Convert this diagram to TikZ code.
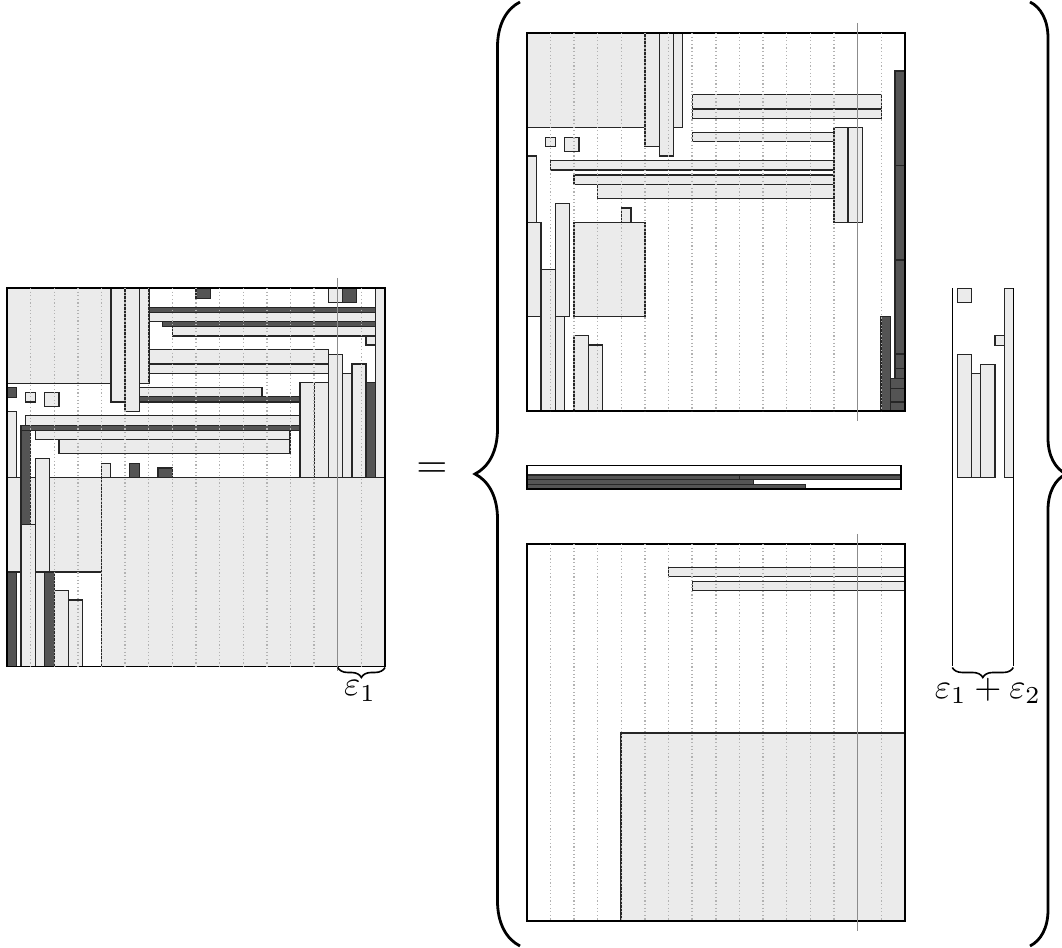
\documentclass[tikz,border=0pt]{standalone}
\usetikzlibrary{decorations.pathreplacing}
\tikzset{
  lt/.style={fill=black!8, draw=black!85, line width=0.35pt},
  dk/.style={fill=black!67, draw=black!85, line width=0.35pt},
  frm/.style={draw=black, line width=0.4pt},
  gridl/.style={draw=black!30, line width=0.35pt, dash pattern=on 0.3pt off 0.6pt},
  cutl/.style={draw=black!45, line width=0.35pt},
  bigbrace/.style={draw=black, line width=0.7pt, decorate, decoration={brace, amplitude=#1}},
  smallbrace/.style={draw=black, line width=0.4pt, decorate, decoration={brace, amplitude=2.5pt}},
  lbl/.style={inner sep=0pt, scale=0.87}
}
\begin{document}
\begin{tikzpicture}[x=0.25pt, y=-0.25pt]
\useasboundingbox (0,0) rectangle (1062,948);

% ================= LEFT MATRIX =================
\draw[lt] (7,288) rectangle (111,383.3);
\draw[lt] (111,288) rectangle (125,402);
\draw[lt] (125,288) rectangle (139.3,411.3);
\draw[lt] (139.3,288) rectangle (149,383.3);
\draw[dk] (149,307.3) rectangle (375.3,312.3);
\draw[lt] (149,312.3) rectangle (375.3,321.7);
\draw[dk] (162.7,321.7) rectangle (375.3,326.7);
\draw[lt] (172.3,326.7) rectangle (375.3,336);
\draw[lt] (149,349.7) rectangle (328.3,364);
\draw[lt] (149,364) rectangle (328.3,373.3);
\draw[lt] (139.3,387.3) rectangle (262,396.7);
\draw[dk] (139.3,396.7) rectangle (300,402);
\draw[lt] (25.7,415.7) rectangle (300,425.7);
\draw[dk] (21,425.7) rectangle (300,430.3);
\draw[lt] (35.3,430.3) rectangle (290,439.7);
\draw[lt] (59,439.7) rectangle (290,453.7);
\draw[dk] (7,387.3) rectangle (16.3,397.3);
\draw[lt] (25.7,392.3) rectangle (35.3,402);
\draw[lt] (44.7,392.3) rectangle (59,406.7);
\draw[lt] (7,411.3) rectangle (16.3,477.3);
\draw[lt] (7,477.3) rectangle (101.7,572);
\draw[lt] (101.7,477.3) rectangle (385,666.5);
\draw[dk] (21,430.3) rectangle (30.7,524.3);
\draw[lt] (35.3,458.3) rectangle (49.3,571.7);
\draw[dk] (196,288) rectangle (210.3,298.3);
\draw[lt] (328.3,288) rectangle (342.7,302.3);
\draw[dk] (342.7,288) rectangle (356.7,302.3);
\draw[lt] (375.3,288) rectangle (385,477.3);
\draw[lt] (366,336) rectangle (375.3,345);
\draw[lt] (300,382.7) rectangle (314.3,477.3);
\draw[lt] (314.3,382.7) rectangle (328.3,477.3);
\draw[lt] (328.3,354.3) rectangle (342.7,477.3);
\draw[lt] (342.7,373.3) rectangle (352,477.3);
\draw[lt] (352,364) rectangle (366,477.3);
\draw[dk] (366,382.7) rectangle (375.3,477.3);
\draw[lt] (101.7,463.3) rectangle (110.7,477.3);
\draw[dk] (129.7,463.3) rectangle (139.3,477.3);
\draw[dk] (158,468) rectangle (172.7,477.3);
\draw[dk] (7,572) rectangle (16.3,666.5);
\draw[lt] (21,524.3) rectangle (35.3,666.5);
\draw[lt] (35.3,572) rectangle (44.7,666.5);
\draw[dk] (44.7,572) rectangle (54.3,666.5);
\draw[lt] (54.3,590.7) rectangle (68.3,666.5);
\draw[lt] (68.3,600) rectangle (82.3,666.5);
\draw[frm] (7,288) rectangle (385,666.5);
\foreach \k in {1,...,13,15} \draw[gridl] ({7+\k*23.625},288) -- ({7+\k*23.625},666.5);
\draw[cutl] (337.75,278) -- (337.75,671);
\coordinate (la) at (385,667.5);
\coordinate (lb) at (337.75,667.5);
\draw[smallbrace] (la) -- (lb);
\node[lbl] (e1) at (360,691) {$\varepsilon_1$};

% ================= EQUALS =================
\node (eq) at (432,470) {$=$};

% ================= TOP RIGHT MATRIX =================
\draw[lt] (526.7,33) rectangle (645,127.7);
\draw[lt] (645,33) rectangle (659.3,146.7);
\draw[lt] (659.3,33) rectangle (673.3,156);
\draw[lt] (673.3,33) rectangle (682.7,127.7);
\draw[lt] (692.3,94.3) rectangle (881.3,109);
\draw[lt] (692.3,109) rectangle (881.3,118.3);
\draw[lt] (692.3,132.3) rectangle (834,141.7);
\draw[lt] (545.7,137.3) rectangle (555.3,146.7);
\draw[lt] (564.7,137.3) rectangle (579,151.7);
\draw[lt] (550.7,160.7) rectangle (834,170);
\draw[lt] (574,175) rectangle (834,184.3);
\draw[lt] (597.7,184.3) rectangle (834,198.7);
\draw[lt] (834,127.3) rectangle (848,222.3);
\draw[lt] (848,127.3) rectangle (862.3,222.3);
\draw[lt] (526.7,156) rectangle (536.3,222.3);
\draw[lt] (526.7,222.3) rectangle (541,316.7);
\draw[lt] (555.3,203.3) rectangle (569.3,316.7);
\draw[lt] (621.7,208) rectangle (631,222.3);
\draw[lt] (574,222.3) rectangle (645,316.7);
\draw[lt] (541,269.3) rectangle (555.3,411);
\draw[lt] (555.3,316.7) rectangle (564.7,411);
\draw[lt] (574,335.7) rectangle (588.3,411);
\draw[lt] (588.3,345) rectangle (602.3,411);
\draw[dk] (895,71) rectangle (905,165.7);
\draw[dk] (895,165.7) rectangle (905,260);
\draw[dk] (895,260) rectangle (905,354);
\draw[dk] (895,354) rectangle (905,368.7);
\draw[dk] (895,368.7) rectangle (905,378.3);
\draw[dk] (890.7,378.3) rectangle (905,388.3);
\draw[dk] (890.7,388.3) rectangle (905,402);
\draw[dk] (890.7,402) rectangle (905,411);
\draw[dk] (881,316.7) rectangle (890.7,411);
\draw[frm] (526.7,33) rectangle (905,411);
\foreach \k in {1,...,13,15} \draw[gridl] ({526.7+\k*23.64},33) -- ({526.7+\k*23.64},411);
\draw[cutl] (857.6,23) -- (857.6,421);

% ================= MIDDLE STRIP =================
\draw[dk] (526.7,475) rectangle (739.3,479.7);
\draw[dk] (739.3,475) rectangle (900.7,479.7);
\draw[dk] (526.7,479.7) rectangle (753.3,484.3);
\draw[dk] (526.7,484.3) rectangle (805.7,489);
\draw[frm] (526.7,465.7) rectangle (900.7,489);

% ================= BOTTOM MATRIX =================
\draw[lt] (668.3,567.3) rectangle (905,576.7);
\draw[lt] (692.3,581.3) rectangle (905,590.7);
\draw[lt] (621,733) rectangle (905,921);
\draw[frm] (526.7,544) rectangle (905,921);
\foreach \k in {1,...,13,15} \draw[gridl] ({526.7+\k*23.64},544) -- ({526.7+\k*23.64},921);
\draw[cutl] (857.6,534) -- (857.6,931);

% ================= RIGHT COLUMN =================
\draw[lt] (957.3,288.3) rectangle (971.3,302.7);
\draw[lt] (1004.3,288.3) rectangle (1013.3,477.7);
\draw[lt] (995,335.3) rectangle (1004.3,345.3);
\draw[lt] (957.3,354.3) rectangle (971.3,477.7);
\draw[lt] (971.3,373.3) rectangle (980.7,477.7);
\draw[lt] (980.7,364.3) rectangle (995,477.7);
\draw[frm] (952.3,288.3) -- (952.3,666.5);
\draw[frm] (1013.3,288.3) -- (1013.3,666.5);
\coordinate (ra) at (1013.3,667.5);
\coordinate (rb) at (952.3,667.5);
\draw[smallbrace] (ra) -- (rb);
\node[lbl] (e12) at (988,691) {$\varepsilon_1+\varepsilon_2$};

% ================= BIG BRACES =================
\coordinate (lbt) at (520,2);
\coordinate (lbb) at (520,946);
\draw[bigbrace=11.25pt] (lbb) -- (lbt);
\coordinate (rbt) at (1030,2);
\coordinate (rbb) at (1030,946);
\draw[bigbrace=9pt] (rbt) -- (rbb);
\end{tikzpicture}
\end{document}
